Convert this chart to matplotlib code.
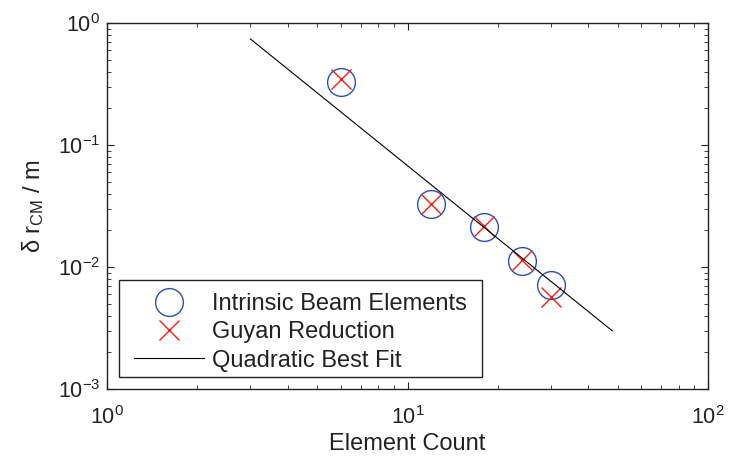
import matplotlib
matplotlib.use("Agg")
import matplotlib.pyplot as plt
from matplotlib.patches import Rectangle
import numpy as np

plt.rcParams['font.family'] = ['Liberation Sans', 'DejaVu Sans']
plt.rcParams['mathtext.fontset'] = 'custom'
plt.rcParams['mathtext.rm'] = 'Liberation Sans'
plt.rcParams['mathtext.it'] = 'Liberation Sans:italic'
plt.rcParams['mathtext.bf'] = 'Liberation Sans:bold'
plt.rcParams['mathtext.sf'] = 'Liberation Sans'

# Data
element_count = [6, 12, 18, 24, 30]
intrinsic_beam = [0.33, 0.033, 0.0213, 0.0112, 0.0071]
guyan_reduction = [0.347, 0.033, 0.0217, 0.0114, 0.0057]
fit_x = [3, 48]
fit_y = [0.74, 0.0030]

TXT = '#222222'

fig = plt.figure(figsize=(7.29, 4.62), dpi=100)
ax = fig.add_axes([107/729, 1-389/462, (708-107)/729, (389-23)/462])

ax.plot(element_count, intrinsic_beam, linestyle='none', marker='o', markersize=20,
        markerfacecolor='none', markeredgecolor='#2b4fb0', markeredgewidth=1.0,
        label='Intrinsic Beam Elements')
ax.plot(element_count, guyan_reduction, linestyle='none', marker='x', markersize=14,
        color='#ff1a1a', markeredgewidth=1.0, label='Guyan Reduction')
ax.plot(fit_x, fit_y, color='black', linewidth=0.8, label='Quadratic Best Fit')

ax.set_xscale('log')
ax.set_yscale('log')
ax.set_xlim(1, 100)
ax.set_ylim(1e-3, 1)

ax.tick_params(which='both', direction='in', top=True, right=True, labelsize=15.5,
               colors=TXT)
ax.tick_params(axis='x', which='major', pad=12)
ax.tick_params(axis='y', which='major', pad=5)
ax.tick_params(which='major', length=5, width=0.8)
ax.tick_params(which='minor', length=3, width=0.6)
for s in ax.spines.values():
    s.set_linewidth(1.0)
    s.set_color(TXT)

ax.set_xlabel('Element Count', fontsize=17, color=TXT, labelpad=3)
ax.set_ylabel(r'δ r$_{\mathrm{CM}}$ / m', fontsize=17, color=TXT, labelpad=8)

leg = ax.legend(loc='lower left', bbox_to_anchor=(0.030, 0.022), fontsize=17,
                frameon=False,
                handlelength=2.97, handletextpad=0.34, labelspacing=0.27,
                borderpad=0.39, borderaxespad=0)
leg.set_zorder(6)
for t in leg.get_texts():
    t.set_color(TXT)

# Frame around the legend, a little wider than the legend's own box
fig.canvas.draw()
bb = leg.get_window_extent()
extra = 6
shift = 4
inv = fig.transFigure.inverted()
(x0, y0), (x1, y1) = inv.transform([(bb.x0 - extra, bb.y0 + shift),
                                    (bb.x1 + extra, bb.y1 + shift)])
frame = Rectangle((x0, y0), x1 - x0, y1 - y0, transform=fig.transFigure,
                  facecolor='white', edgecolor=TXT, linewidth=1.0, zorder=5)
ax.add_artist(frame)
frame.set_clip_on(False)

fig.savefig('out.png', dpi=100)
